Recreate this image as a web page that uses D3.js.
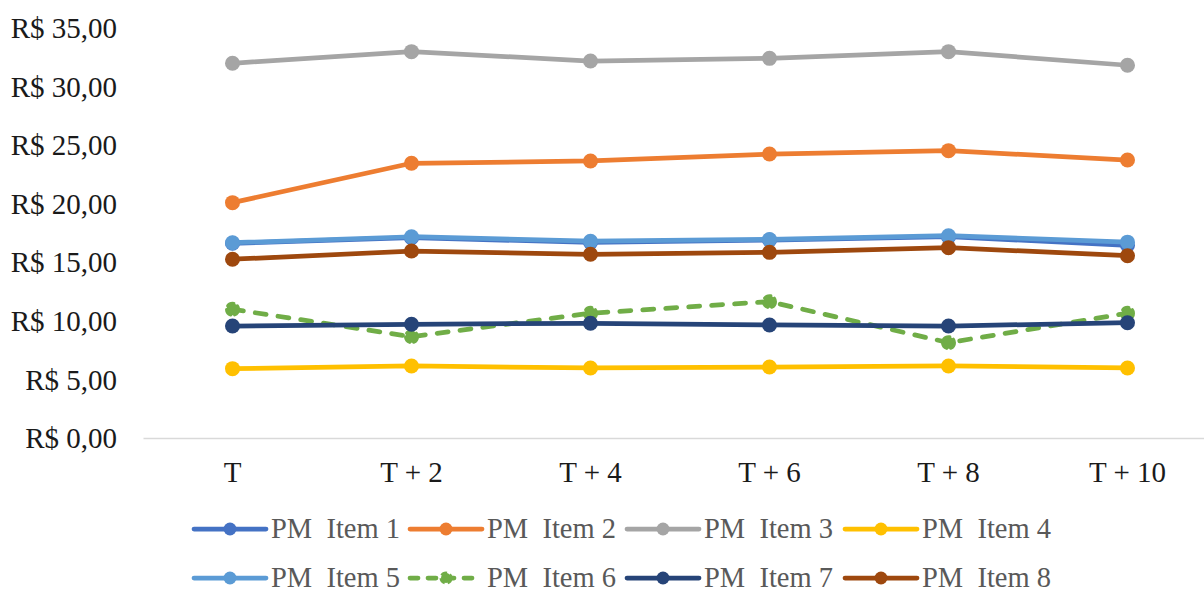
<!DOCTYPE html>
<html>
<head>
<meta charset="utf-8">
<script src="https://cdn.jsdelivr.net/npm/d3@7"></script>
<style>
html,body{margin:0;padding:0;background:#fff;}
svg{display:block;}
text{font-family:"Liberation Serif","Times New Roman",serif;}
</style>
</head>
<body>
<svg id="chart" width="1204" height="589"></svg>
<script>
const categories = ["T", "T + 2", "T + 4", "T + 6", "T + 8", "T + 10"];
const seriesNames = ["PM  Item 1", "PM  Item 2", "PM  Item 3", "PM  Item 4", "PM  Item 5", "PM  Item 6", "PM  Item 7", "PM  Item 8"];
const item1 = [16.62, 17.10, 16.70, 16.90, 17.18, 16.45];
const item2 = [20.09, 23.45, 23.65, 24.24, 24.53, 23.73];
const item3 = [31.99, 32.98, 32.18, 32.41, 32.98, 31.82];
const item4 = [5.92, 6.15, 5.98, 6.06, 6.15, 5.98];
const item5 = [16.67, 17.18, 16.80, 16.95, 17.27, 16.72];
const item6 = [10.99, 8.65, 10.65, 11.64, 8.14, 10.65];
const item7 = [9.56, 9.71, 9.79, 9.65, 9.56, 9.84];
const item8 = [15.26, 15.96, 15.68, 15.85, 16.25, 15.56];
const yTicks = [0, 5, 10, 15, 20, 25, 30, 35];
const colors = ["#4472C4", "#ED7D31", "#A5A5A5", "#FFC000", "#5B9BD5", "#70AD47", "#264478", "#9E480E"];
const dashed = [false, false, false, false, false, true, false, false];

const allSeries = [item1, item2, item3, item4, item5, item6, item7, item8];

const svg = d3.select("#chart");
const x = d3.scaleBand().domain(categories).range([143, 1217]);
const y = d3.scaleLinear().domain([0, 35]).range([438, 28]);
const fmt = v => "R$ " + v.toFixed(2).replace(".", ",");

// y axis labels
const yAxis = d3.axisLeft(y).tickValues(yTicks).tickFormat(fmt).tickSize(0).tickPadding(0);
const gy = svg.append("g").attr("transform", "translate(117,0)").call(yAxis);
gy.select(".domain").remove();
gy.selectAll("text").attr("font-size", 29).attr("fill", "#1a1a1a")
  .attr("font-family", "Liberation Serif, Times New Roman, serif").attr("dy", "0.33em");

// x axis
const xAxis = d3.axisBottom(x).tickSize(0).tickPadding(0);
const gx = svg.append("g").attr("transform", "translate(0," + y(0) + ")").call(xAxis);
gx.select(".domain").attr("stroke", "#d9d9d9").attr("stroke-width", 1.5);
gx.selectAll("text").attr("font-size", 29).attr("fill", "#1a1a1a")
  .attr("font-family", "Liberation Serif, Times New Roman, serif").attr("dy", "1.5em");

const cx = c => x(c) + x.bandwidth() / 2;
const line = d3.line().x((d, i) => cx(categories[i])).y(d => y(d));

allSeries.forEach((vals, s) => {
  const g = svg.append("g");
  g.append("path").datum(vals).attr("d", line)
    .attr("fill", "none").attr("stroke", colors[s]).attr("stroke-width", 4.75)
    .attr("stroke-linejoin", "round")
    .attr("stroke-linecap", dashed[s] ? "round" : "butt")
    .attr("stroke-dasharray", dashed[s] ? "11,12" : null);
  g.selectAll("circle").data(vals).enter().append("circle")
    .attr("cx", (d, i) => cx(categories[i])).attr("cy", d => y(d))
    .attr("r", dashed[s] ? 6 : 7.5).attr("fill", colors[s])
    .attr("stroke", dashed[s] ? colors[s] : "none")
    .attr("stroke-width", dashed[s] ? 3 : 0)
    .attr("stroke-linecap", "round")
    .attr("stroke-dasharray", dashed[s] ? "7,4" : null);
});

// legend
const legStartX = [194, 410, 627, 845];
const legRowY = [529, 578];
seriesNames.forEach((name, s) => {
  const col = s % 4, row = Math.floor(s / 4);
  const gx0 = legStartX[col], gy0 = legRowY[row];
  const g = svg.append("g").attr("transform", "translate(" + gx0 + "," + gy0 + ")");
  g.append("line").attr("x1", 0).attr("x2", 72).attr("y1", 0).attr("y2", 0)
    .attr("stroke", colors[s]).attr("stroke-width", 4.75)
    .attr("stroke-linecap", "round")
    .attr("stroke-dasharray", dashed[s] ? "8,10" : null);
  g.append("circle").attr("cx", 36).attr("cy", 0).attr("r", dashed[s] ? 5 : 6.5)
    .attr("fill", colors[s])
    .attr("stroke", dashed[s] ? colors[s] : "none").attr("stroke-width", dashed[s] ? 3 : 0)
    .attr("stroke-dasharray", dashed[s] ? "6,3" : null);
  g.append("text").attr("x", 77).attr("y", 0).attr("dy", "0.33em")
    .attr("font-size", 28.5).attr("fill", "#595959")
    .style("white-space", "pre").text(name);
});
</script>
</body>
</html>
